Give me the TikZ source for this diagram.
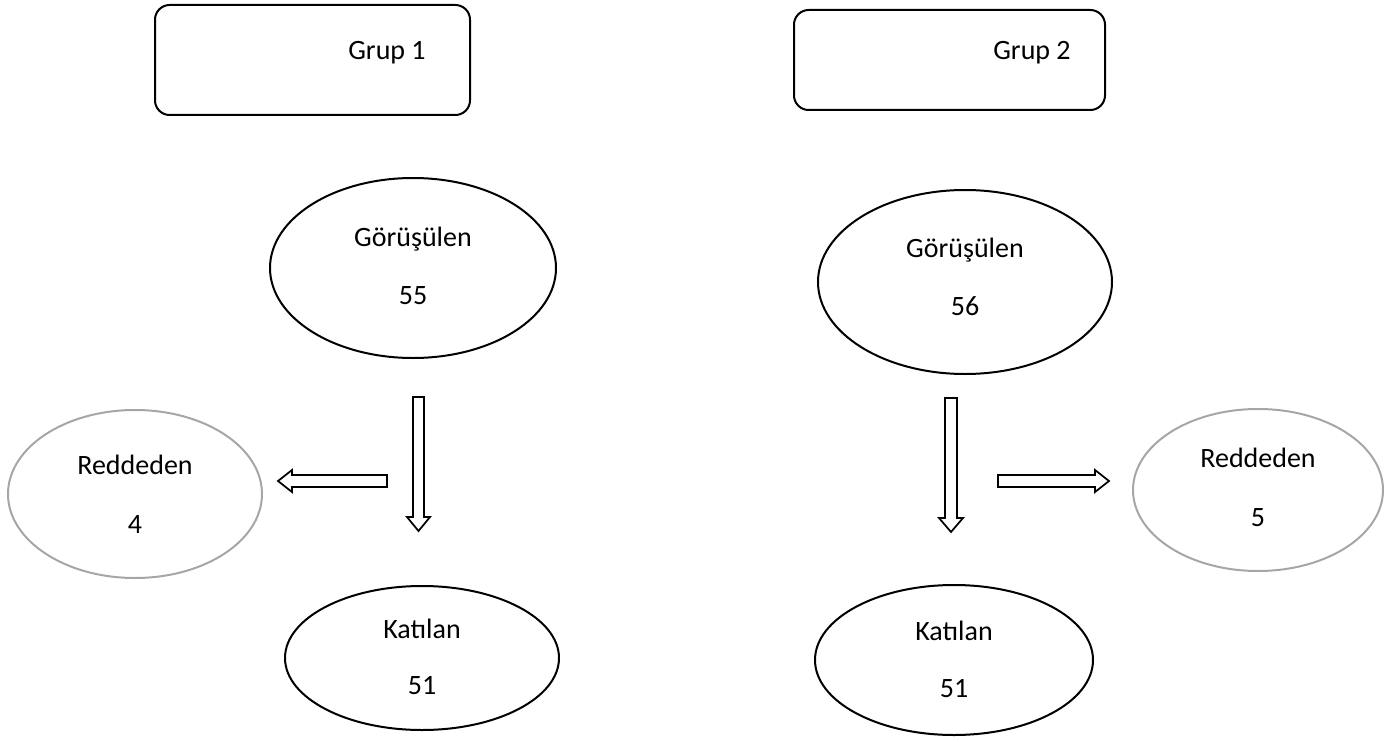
\documentclass[tikz,border=0pt]{standalone}
\usepackage{fontspec}
\setmainfont{Carlito}
\usetikzlibrary{shapes.geometric}
\begin{document}
\begin{tikzpicture}[x=0.75pt,y=-0.75pt,
  box/.style={draw, line width=1.5pt, rounded corners=11pt, inner sep=0pt},
  ell/.style={draw, line width=1.5pt, ellipse, inner sep=0pt},
  gell/.style={draw=black!35, line width=1.5pt, ellipse, inner sep=0pt},
  lbl/.style={font=\fontsize{21}{25}\selectfont, inner sep=0pt, anchor=base},
  barrow/.style={draw, line width=1.3pt, fill=white, line join=miter}]
\useasboundingbox (0,0) rectangle (1396,742);
% boxes
\node[box, minimum width=315*0.75pt, minimum height=110*0.75pt] (g1) at (312.5,60) {};
\node[lbl] (g1t) at (387,60) {Grup 1};
\node[box, minimum width=311*0.75pt, minimum height=100*0.75pt] (g2) at (949.5,60) {};
\node[lbl] (g2t) at (1032,60) {Grup 2};
% ellipses
\node[ell, minimum width=286*0.75pt, minimum height=180*0.75pt] (e1) at (413,268) {};
\node[lbl] (e1a) at (413,246) {Görüşülen};
\node[lbl] (e1b) at (413,304) {55};
\node[ell, minimum width=294*0.75pt, minimum height=184*0.75pt] (e2) at (965,282) {};
\node[lbl] (e2a) at (965,257) {Görüşülen};
\node[lbl] (e2b) at (965,315) {56};
\node[gell, minimum width=254*0.75pt, minimum height=168*0.75pt] (r1) at (135,494) {};
\node[lbl] (r1a) at (135,474) {Reddeden};
\node[lbl] (r1b) at (135,533) {4};
\node[gell, minimum width=250*0.75pt, minimum height=162*0.75pt] (r2) at (1258,490) {};
\node[lbl] (r2a) at (1258,467) {Reddeden};
\node[lbl] (r2b) at (1258,526) {5};
\node[ell, minimum width=274*0.75pt, minimum height=144*0.75pt] (k1) at (422,658) {};
\node[lbl] (k1a) at (422,638) {Katılan};
\node[lbl] (k1b) at (422,694) {51};
\node[ell, minimum width=278*0.75pt, minimum height=150*0.75pt] (k2) at (954,660) {};
\node[lbl] (k2a) at (954,640) {Katılan};
\node[lbl] (k2b) at (954,697) {51};
% block arrows
\draw[barrow] (413,397) -- (424,397) -- (424,517) -- (430,517) -- (418.5,531) -- (407,517) -- (413,517) -- cycle;
\draw[barrow] (387,475) -- (387,487) -- (292,487) -- (292,492) -- (278,481) -- (292,470) -- (292,475) -- cycle;
\draw[barrow] (945,398) -- (957,398) -- (957,518) -- (963,518) -- (951,532) -- (939,518) -- (945,518) -- cycle;
\draw[barrow] (998,475) -- (1095,475) -- (1095,470) -- (1109,481) -- (1095,492) -- (1095,487) -- (998,487) -- cycle;
\end{tikzpicture}
\end{document}
